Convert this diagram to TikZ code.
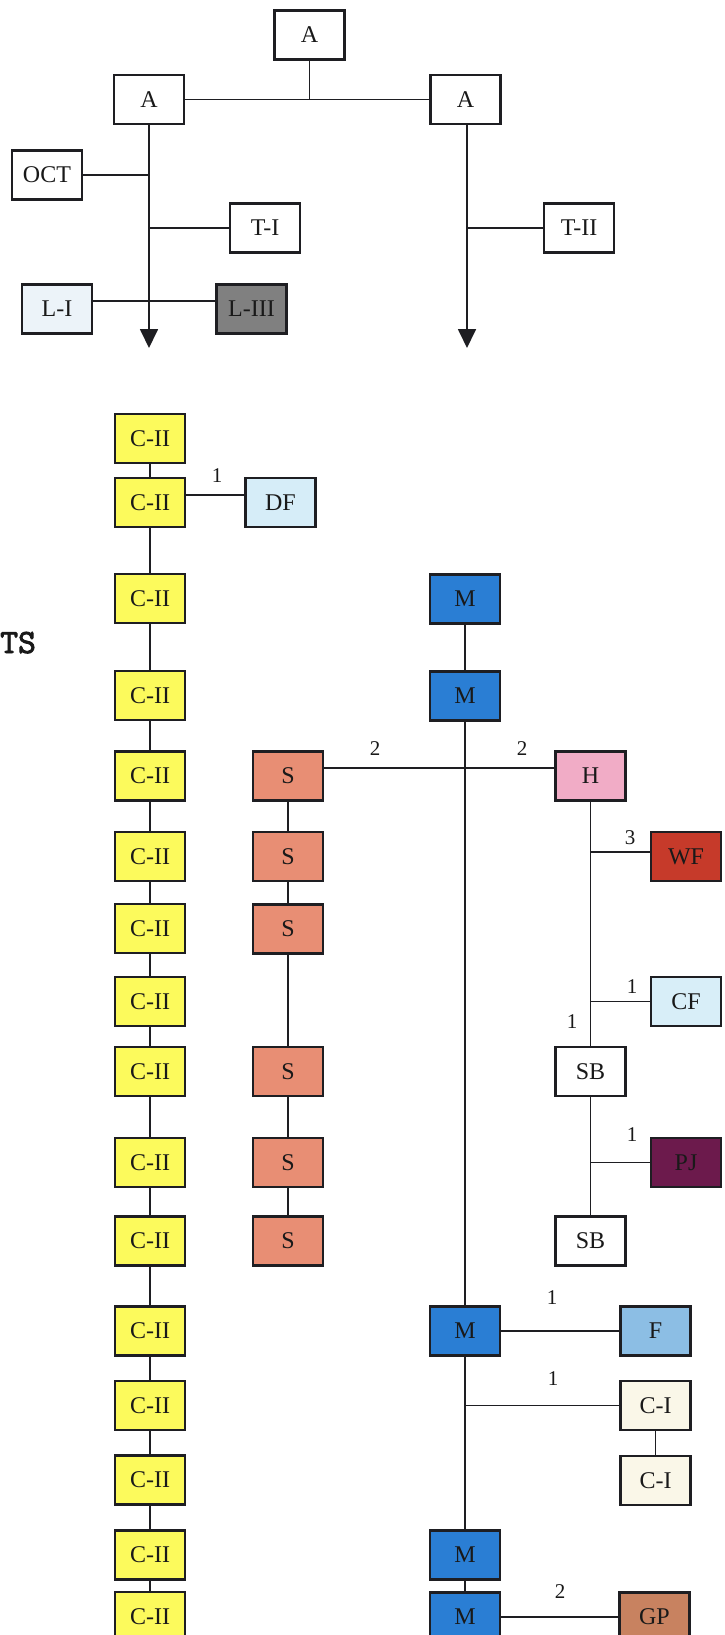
\documentclass[tikz,border=0pt]{standalone}
\usepackage{fontspec}
\setmainfont{Liberation Serif}
\newfontfamily\tsfont{lmmono10-regular}[Extension=.otf, FakeBold=2.5]
\usetikzlibrary{arrows.meta}

\definecolor{lineclr}{RGB}{30,30,34}
\definecolor{textclr}{RGB}{25,25,25}
\definecolor{cyel}{RGB}{252,250,92}
\definecolor{cdf}{RGB}{214,237,248}
\definecolor{cm}{RGB}{42,126,212}
\definecolor{cs}{RGB}{232,142,116}
\definecolor{ch}{RGB}{241,172,198}
\definecolor{cwf}{RGB}{198,58,42}
\definecolor{ccf}{RGB}{216,238,248}
\definecolor{cpj}{RGB}{108,26,76}
\definecolor{cf}{RGB}{140,190,228}
\definecolor{cci}{RGB}{250,247,232}
\definecolor{cgp}{RGB}{200,130,96}
\definecolor{cli}{RGB}{236,243,249}
\definecolor{cliii}{RGB}{128,128,128}

\begin{document}
\begin{tikzpicture}[x=1pt,y=-1pt,
  box/.style={draw=lineclr, line width=2.3pt, minimum width=70pt,
    minimum height=49pt, inner sep=0pt, text=textclr,
    font=\fontsize{24}{28}\selectfont},
  link/.style={draw=lineclr, line width=1.8pt},
  num/.style={inner sep=0pt, text=textclr, font=\fontsize{21}{25}\selectfont},
  tip/.style={-{Triangle[length=19pt,width=18pt]}}
  ]
\useasboundingbox (0,0) rectangle (724,1635);
\fill[white] (0,0) rectangle (724,1635);

% ---------- upper tree ----------
\node[box] (A0) at (309.5,35) {A};
\node[box] (A1) at (149,99.5) {A};
\node[box] (A2) at (465.5,99.5) {A};
\coordinate (tipL) at (149,348);
\coordinate (tipR) at (467,348);

\node[box] (OCT) at (47,175) {OCT};
\node[box] (TI) at (265,228) {T-I};
\node[box] (TII) at (579,228) {T-II};
\node[box, fill=cli] (LI) at (57,309) {L-I};
\node[box, fill=cliii] (LIII) at (251.5,309) {L-III};

\draw[link] (A1.east) -- (A2.west);
\draw[link] (A0.south) -- (A0.south |- A1.east);
\draw[link, tip] (A1.south) -- (tipL);
\draw[link, tip] (A2.south -| tipR) -- (tipR);
\draw[link] (OCT.east) -- (OCT.east -| tipL);
\draw[link] (TI.west) -- (TI.west -| tipL);
\draw[link] (TII.west) -- (TII.west -| tipR);
\draw[link] ([yshift=8pt]LI.east) -- ([yshift=8pt]LIII.west);

% ---------- left column ----------
\foreach \n/\y in {1/438.5,2/502.7,3/598.5,4/695.5,5/776,6/856.5,7/928.5,
                   8/1001.5,9/1071.5,10/1162.5,11/1241,12/1331,13/1405.5,
                   14/1480,15/1555,16/1616.5}
  \node[box, fill=cyel] (C\n) at (150,\y) {C-II};
\foreach \a/\b in {1/2,2/3,3/4,4/5,5/6,6/7,7/8,8/9,9/10,10/11,11/12,12/13,
                   13/14,14/15,15/16}
  \draw[link] (C\a.south) -- (C\b.north);

\node[box, fill=cdf] (DF) at (280.5,502.7) {DF};
\draw[link] ([yshift=7.7pt]C2.east) -- ([yshift=7.7pt]DF.west);
\node[num] (nDF) at (217,476) {1};

\node[anchor=base west, inner sep=0pt, text=textclr,
  font={\tsfont\fontsize{34}{40}\selectfont}] (ts) at (0,653) {TS};

% ---------- S column ----------
\foreach \n/\y in {1/776,2/856.5,3/929,4/1071.5,5/1162.5,6/1241}
  \node[box, fill=cs] (S\n) at (288,\y) {S};
\foreach \a/\b in {1/2,2/3,3/4,4/5,5/6}
  \draw[link] (S\a.south) -- (S\b.north);

% ---------- M column ----------
\foreach \n/\y in {1/599,2/696,3/1331,4/1555,5/1617}
  \node[box, fill=cm] (M\n) at (465,\y) {M};
\foreach \a/\b in {1/2,2/3,3/4,4/5}
  \draw[link] (M\a.south) -- (M\b.north);

% ---------- H branch ----------
\node[box, fill=ch] (H) at (590.5,776) {H};
\draw[link] ([yshift=8pt]S1.east) -- ([yshift=8pt]H.west);
\node[num] (n2a) at (375,749) {2};
\node[num] (n2b) at (522,749) {2};

\node[box, fill=cwf] (WF) at (686,856.5) {WF};
\node[box, fill=ccf] (CF) at (686,1001.5) {CF};
\node[box] (SB1) at (590.5,1071.5) {SB};
\node[box, fill=cpj] (PJ) at (686,1162.5) {PJ};
\node[box] (SB2) at (590.5,1241) {SB};

\draw[link] (H.south) -- (SB1.north);
\draw[link] (SB1.south) -- (SB2.north);
\coordinate (jWF) at (590.5,852);
\draw[link] (jWF) -- (jWF -| WF.west);
\draw[link] (CF.west -| H.south) -- (CF.west);
\draw[link] (PJ.west -| SB1.south) -- (PJ.west);
\node[num] (n3) at (630,838) {3};
\node[num] (nCF) at (632,987) {1};
\node[num] (nSB) at (572,1022) {1};
\node[num] (nPJ) at (632,1135) {1};

% ---------- lower right ----------
\node[box, fill=cf] (F) at (655.5,1331) {F};
\node[box, fill=cci] (CI1) at (655.5,1405.5) {C-I};
\node[box, fill=cci] (CI2) at (655.5,1480.5) {C-I};
\node[box, fill=cgp] (GP) at (654.5,1617) {GP};

\draw[link] (M3.east) -- (F.west);
\draw[link] (CI1.west -| M3.south) -- (CI1.west);
\draw[link] (CI1.south) -- (CI2.north);
\draw[link] (M5.east) -- (GP.west);
\node[num] (nF) at (552,1298) {1};
\node[num] (nCI) at (553,1379) {1};
\node[num] (nGP) at (560,1592) {2};
\end{tikzpicture}
\end{document}
